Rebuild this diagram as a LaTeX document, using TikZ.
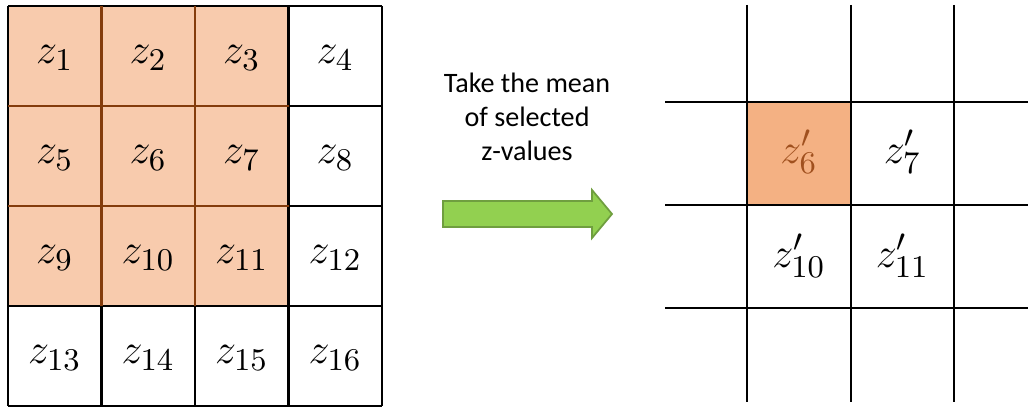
\documentclass[tikz,border=0pt]{standalone}
\usepackage{fontspec}
\setsansfont{Carlito}
\usetikzlibrary{positioning}

\definecolor{peach}{HTML}{F8CBAD}
\definecolor{meancell}{HTML}{F4B183}
\definecolor{rust}{HTML}{843C0C}
\definecolor{meantext}{HTML}{A0501E}
\definecolor{arrowgreen}{HTML}{92D050}
\definecolor{arrowedge}{HTML}{6F9E3F}

\tikzset{
  gridline/.style={line width=0.8pt, draw=black},
  innerline/.style={line width=0.8pt, draw=rust},
  zval/.style={font=\fontsize{12.5}{15}\selectfont, inner sep=0pt},
  caption/.style={font=\sffamily\fontsize{8}{9.7}\selectfont, align=center},
}

\begin{document}
\begin{tikzpicture}[x=0.1mm, y=0.1mm]
    \useasboundingbox (0,0) rectangle (1028,407);

    % input grid, the selected 3x3 block shaded
    \fill[peach] (8,401) rectangle (288.5,101);
    \foreach \c in {0,...,4}
        \draw[gridline] (8+93.5*\c,401) -- (8+93.5*\c,1);
    \foreach \r in {0,...,4}
        \draw[gridline] (8,401-100*\r) -- (382,401-100*\r);
    \foreach \c in {1,2}
        \draw[innerline] (8+93.5*\c,401) -- (8+93.5*\c,101);
    \foreach \r in {1,2}
        \draw[innerline] (8,401-100*\r) -- (288.5,401-100*\r);

    \foreach \r in {0,...,3}
        \foreach \c in {0,...,3} {
            \pgfmathtruncatemacro{\k}{4*\r+\c+1}
            \node[zval] (z\k) at (54.75+93.5*\c, 349-100*\r) {$z_{\k}$};
        }

    % arrow and its caption
    \node[caption] (mean) at (527,290) {Take the mean\\of selected\\z-values};
    \draw[arrowedge, fill=arrowgreen, line width=0.5pt]
        (443,206) -- (592,206) -- (592,217) -- (612,193) -- (592,169)
        -- (592,180) -- (443,180) -- cycle;

    % output grid
    \fill[meancell] (747,305) rectangle (851,202);
    \foreach \x in {747,851,954}
        \draw[gridline] (\x,402) -- (\x,5);
    \foreach \y in {305,202,99}
        \draw[gridline] (665,\y) -- (1028,\y);

    \node[zval, text=meantext] (m6) at (799,255) {$z'_{6}$};
    \node[zval] (m7) at (902.5,255) {$z'_{7}$};
    \node[zval] (m10) at (799,151) {$z'_{10}$};
    \node[zval] (m11) at (902.5,151) {$z'_{11}$};
\end{tikzpicture}
\end{document}
